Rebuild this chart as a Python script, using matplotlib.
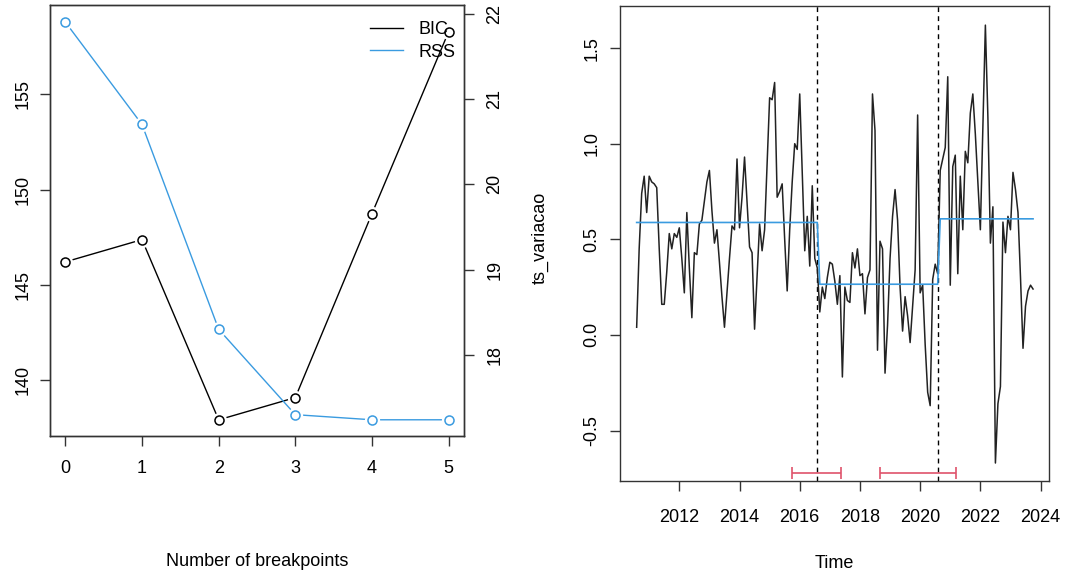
import numpy as np
import matplotlib
matplotlib.use("Agg")
import matplotlib.pyplot as plt
from matplotlib.lines import Line2D

plt.rcParams['font.family'] = ['Liberation Sans', 'DejaVu Sans']
plt.rcParams['font.size'] = 13

# left panel: model selection
n_breaks = [0, 1, 2, 3, 4, 5]
bic = [146.2, 147.37, 137.9, 139.07, 148.74, 158.3]
rss = [21.90, 20.70, 18.30, 17.30, 17.24, 17.24]

# right panel: monthly series, Aug 2010 .. Oct 2023
start_year = 2010
start_month = 8
ts_variacao = [
    0.04, 0.45, 0.74, 0.83, 0.64, 0.83, 0.80, 0.79, 0.77, 0.45,
    0.16, 0.16, 0.33, 0.53, 0.45, 0.53, 0.51, 0.56, 0.40, 0.22,
    0.64, 0.35, 0.09, 0.43, 0.42, 0.58, 0.60, 0.70, 0.80, 0.86,
    0.65, 0.48, 0.55, 0.38, 0.20, 0.04, 0.22, 0.40, 0.57, 0.55,
    0.92, 0.56, 0.72, 0.93, 0.70, 0.46, 0.43, 0.03, 0.30, 0.58,
    0.44, 0.55, 0.90, 1.24, 1.23, 1.32, 0.72, 0.75, 0.79, 0.50,
    0.23, 0.55, 0.80, 1.00, 0.97, 1.26, 0.85, 0.44, 0.62, 0.36,
    0.78, 0.40, 0.35, 0.12, 0.25, 0.19, 0.30, 0.38, 0.37, 0.28,
    0.16, 0.31, -0.22, 0.25, 0.18, 0.17, 0.43, 0.35, 0.45, 0.31,
    0.32, 0.11, 0.30, 0.34, 1.26, 1.07, -0.08, 0.49, 0.45, -0.20,
    0.05, 0.40, 0.62, 0.76, 0.60, 0.25, 0.02, 0.20, 0.10, -0.04,
    0.15, 0.34, 1.15, 0.22, 0.26, -0.05, -0.30, -0.37, 0.29, 0.37,
    0.32, 0.86, 0.92, 0.98, 1.35, 0.26, 0.88, 0.94, 0.32, 0.83,
    0.55, 0.96, 0.90, 1.16, 1.26, 1.05, 0.80, 0.55, 1.09, 1.62,
    1.14, 0.48, 0.67, -0.67, -0.36, -0.27, 0.59, 0.43, 0.62, 0.55,
    0.85, 0.76, 0.64, 0.30, -0.07, 0.15, 0.23, 0.26, 0.24,
]
break_idx = [72, 120]            # last obs of segment 1 and 2
segment_levels = [0.588, 0.265, 0.607]
ci_low = [2015.75, 2018.67]
ci_high = [2017.36, 2021.18]

BLUE = '#3A9BE0'
RED = '#DF536B'

W, H = 1065, 576
fig = plt.figure(figsize=(W / 100, H / 100), dpi=100)


def px_axes(x0, y0, x1, y1):
    return fig.add_axes([x0 / W, (H - y1) / H, (x1 - x0) / W, (y1 - y0) / H])


def r_style(ax):
    for s in ax.spines.values():
        s.set_linewidth(1.0)
        s.set_color('#333333')
    ax.tick_params(length=7, width=1.0, color='#333333')


# ---- left panel
ax1 = px_axes(50, 5, 464, 436)
ax1.plot(n_breaks, bic, color='black', lw=1, zorder=2)
ax1.plot(n_breaks, bic, ls='none', marker='o', ms=11, mfc='white', mec='none', zorder=3)
ax1.plot(n_breaks, bic, ls='none', marker='o', ms=6.5, mfc='none', mec='black', mew=1.1, zorder=4)
ax1.set_xlim(-0.2, 5.2)
ax1.set_ylim(137.05, 159.7)
ax1.set_xticks(n_breaks)
ax1.set_yticks([140, 145, 150, 155])
r_style(ax1)
ax1.tick_params(axis='x', pad=10)
ax1.tick_params(axis='y', pad=6)
for lab in ax1.get_yticklabels():
    lab.set_rotation(90)
    lab.set_va('center')
ax1.set_xlabel('Number of breakpoints')
ax1.xaxis.set_label_coords(0.5, -0.272)

ax2 = ax1.twinx()
ax2.plot(n_breaks, rss, color=BLUE, lw=1, zorder=2)
ax2.plot(n_breaks, rss, ls='none', marker='o', ms=11, mfc='white', mec='none', zorder=3)
ax2.plot(n_breaks, rss, ls='none', marker='o', ms=6.5, mfc='none', mec=BLUE, mew=1.1, zorder=4)
ax2.set_ylim(17.05, 22.1)
ax2.set_yticks([18, 19, 20, 21, 22])
r_style(ax2)
ax2.tick_params(axis='y', pad=9)
for lab in ax2.get_yticklabels():
    lab.set_rotation(90)
    lab.set_va('center')
fig.text(540 / W, 1 - 238 / H, 'ts_variacao', rotation=90, ha='center', va='center')

handles = [Line2D([], [], color='black', lw=1), Line2D([], [], color=BLUE, lw=1)]
ax2.legend(handles, ['BIC', 'RSS'], loc='upper left', bbox_to_anchor=(0.772, 0.962),
           frameon=False, handlelength=1.85, handletextpad=0.85, labelspacing=0.3,
           borderaxespad=0, borderpad=0)

# ---- right panel
n = len(ts_variacao)
t = start_year + (start_month - 1) / 12 + np.arange(n) / 12
lengths = np.diff([-1] + break_idx + [n - 1])
fitted = np.repeat(segment_levels, lengths)
break_times = t[break_idx]

ax3 = px_axes(620, 6, 1049, 481)
ax3.plot(t, ts_variacao, color='#222222', lw=1.1, zorder=2)
ax3.plot(t, fitted, color=BLUE, lw=1.2, zorder=3)
for bt in break_times:
    ax3.axvline(bt, color='black', lw=1, ls=(0, (3.5, 3)), zorder=1)
ci_mid = [(a + b) / 2 for a, b in zip(ci_low, ci_high)]
ci_half = [(b - a) / 2 for a, b in zip(ci_low, ci_high)]
ax3.errorbar(ci_mid, [-0.72] * len(ci_mid), xerr=ci_half, fmt='none', ecolor=RED,
             elinewidth=1.2, capsize=4, capthick=1.2)
ax3.set_xlim(2010.03, 2024.28)
ax3.set_ylim(-0.764, 1.72)
ax3.set_xticks([2012, 2014, 2016, 2018, 2020, 2022, 2024])
ax3.set_yticks([-0.5, 0.0, 0.5, 1.0, 1.5])
ax3.set_yticklabels(['-0.5', '0.0', '0.5', '1.0', '1.5'])
r_style(ax3)
ax3.tick_params(axis='x', pad=13)
ax3.tick_params(axis='y', pad=7)
for lab in ax3.get_yticklabels():
    lab.set_rotation(90)
    lab.set_va('center')
ax3.set_xlabel('Time')
ax3.xaxis.set_label_coords(0.5, -0.156)

fig.savefig('out.png', dpi=100)
